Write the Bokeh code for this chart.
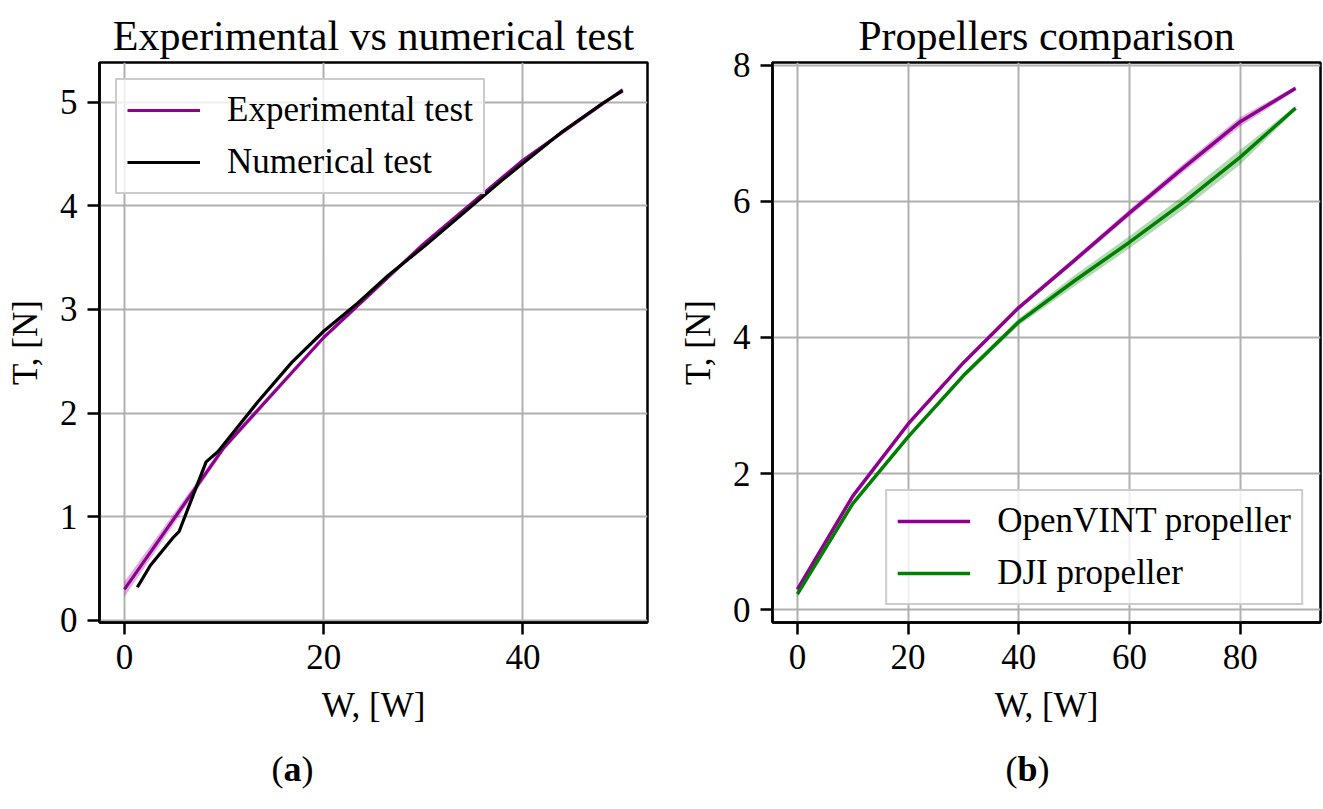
from bokeh.plotting import figure
from bokeh.models import Range1d, FixedTicker, ColumnDataSource
from bokeh.layouts import column, row
from bokeh.core.properties import value
from bokeh.embed import file_html
from bokeh.resources import INLINE

# ---------------- data ----------------
# (a) Experimental vs numerical test
exp_W = [0, 10, 20, 30, 40, 50]
exp_T = [0.30, 1.67, 2.73, 3.63, 4.44, 5.12]
exp_std = [0.075, 0.03, 0.02, 0.02, 0.02, 0.015]

num_W = [1.3, 2.6, 4.9, 5.5, 8.2, 9.4, 13.4, 16.8, 20.0, 23.4, 26.5, 30.1, 34.5, 37.8, 40.0, 44.0, 48.0, 50.0]
num_T = [0.32, 0.53, 0.80, 0.86, 1.53, 1.63, 2.11, 2.49, 2.79, 3.06, 3.33, 3.61, 3.97, 4.24, 4.41, 4.72, 4.99, 5.11]

# (b) Propellers comparison
prop_W = [0, 10, 20, 30, 40, 50, 60, 70, 80, 90]
openvint_T = [0.30, 1.67, 2.73, 3.63, 4.44, 5.13, 5.83, 6.51, 7.17, 7.66]
openvint_std = [0.04, 0.03, 0.03, 0.03, 0.03, 0.04, 0.05, 0.06, 0.07, 0.03]
dji_T = [0.23, 1.56, 2.54, 3.44, 4.23, 4.83, 5.40, 6.00, 6.65, 7.37]
dji_std = [0.04, 0.03, 0.03, 0.04, 0.05, 0.08, 0.09, 0.10, 0.11, 0.03]

a_xticks = [0, 20, 40]
a_yticks = [0, 1, 2, 3, 4, 5]
b_xticks = [0, 20, 40, 60, 80]
b_yticks = [0, 2, 4, 6, 8]

titles = ["Experimental vs numerical test", "Propellers comparison"]
x_label = "W, [W]"
y_label = "T, [N]"
captions = ["a", "b"]

PURPLE = "#8e008e"
GREEN = "#008000"
FONT = "Liberation Serif"


def style(p, xticks, yticks):
    p.title.text_font = FONT
    p.title.text_font_size = "42px"
    p.title.text_font_style = "normal"
    p.title.text_color = "black"
    p.title.align = "center"
    p.title.standoff = 8
    p.outline_line_color = "black"
    p.outline_line_width = 2.5
    p.outline_line_alpha = 1
    p.background_fill_color = "white"
    p.border_fill_color = "white"
    p.xaxis.ticker = FixedTicker(ticks=xticks)
    p.yaxis.ticker = FixedTicker(ticks=yticks)
    for ax in [p.xaxis[0], p.yaxis[0]]:
        ax.axis_line_color = "black"
        ax.axis_line_width = 2.5
        ax.major_tick_line_color = "black"
        ax.major_tick_line_width = 2.5
        ax.major_tick_out = 12
        ax.major_tick_in = 0
        ax.minor_tick_line_color = None
        ax.major_label_text_font = FONT
        ax.major_label_text_font_size = "35px"
        ax.major_label_text_color = "black"
        ax.major_label_standoff = 10
        ax.axis_label_text_font = FONT
        ax.axis_label_text_font_size = "35px"
        ax.axis_label_text_font_style = "normal"
        ax.axis_label_text_color = "black"
    p.xaxis.axis_label = x_label
    p.yaxis.axis_label = y_label
    p.xaxis.axis_label_standoff = 14
    p.yaxis.axis_label_standoff = 12
    p.grid.grid_line_color = "#b0b0b0"
    p.grid.grid_line_width = 2


def style_legend(p, loc, margin):
    lg = p.legend[0]
    lg.location = loc
    lg.margin = margin
    lg.label_text_font = FONT
    lg.label_text_font_size = "35px"
    lg.label_text_color = "black"
    lg.glyph_width = 73
    lg.glyph_height = 30
    lg.label_height = 30
    lg.label_standoff = 27
    lg.padding = 10
    lg.spacing = 12
    lg.border_line_color = "#cccccc"
    lg.border_line_width = 2
    lg.border_line_alpha = 1
    lg.background_fill_color = "white"
    lg.background_fill_alpha = 0.8


# ---------------- (a) ----------------
p1 = figure(width=661, height=730, output_backend="svg", toolbar_location=None,
            x_range=Range1d(-2.5, 52.5), y_range=Range1d(-0.02, 5.383),
            title=titles[0], min_border_left=99, min_border_right=14,
            min_border_top=62, min_border_bottom=108)
style(p1, a_xticks, a_yticks)
src_a = ColumnDataSource(dict(
    x=exp_W, y=exp_T,
    lo=[t - s for t, s in zip(exp_T, exp_std)],
    hi=[t + s for t, s in zip(exp_T, exp_std)]))
p1.varea(x="x", y1="lo", y2="hi", source=src_a, fill_color=PURPLE, fill_alpha=0.3)
p1.line(x="x", y="y", source=src_a, line_color=PURPLE, line_width=3.2,
        legend_label="Experimental test")
p1.line(x=num_W, y=num_T, line_color="black", line_width=3.2, legend_label="Numerical test")
style_legend(p1, "top_left", 16)

# ---------------- (b) ----------------
p2 = figure(width=662, height=730, output_backend="svg", toolbar_location=None,
            x_range=Range1d(-4.5, 94.5), y_range=Range1d(-0.187, 8.04),
            title=titles[1], min_border_left=111, min_border_right=3,
            min_border_top=62, min_border_bottom=108)
style(p2, b_xticks, b_yticks)
src_o = ColumnDataSource(dict(
    x=prop_W, y=openvint_T,
    lo=[t - s for t, s in zip(openvint_T, openvint_std)],
    hi=[t + s for t, s in zip(openvint_T, openvint_std)]))
src_d = ColumnDataSource(dict(
    x=prop_W, y=dji_T,
    lo=[t - s for t, s in zip(dji_T, dji_std)],
    hi=[t + s for t, s in zip(dji_T, dji_std)]))
p2.varea(x="x", y1="lo", y2="hi", source=src_o, fill_color=PURPLE, fill_alpha=0.3)
p2.varea(x="x", y1="lo", y2="hi", source=src_d, fill_color=GREEN, fill_alpha=0.3)
p2.line(x="x", y="y", source=src_o, line_color=PURPLE, line_width=3.5,
        legend_label="OpenVINT propeller")
p2.line(x="x", y="y", source=src_d, line_color=GREEN, line_width=3.5,
        legend_label="DJI propeller")
style_legend(p2, "bottom_right", 17)

# ---------------- captions ----------------
p3 = figure(width=1323, height=79, output_backend="svg", toolbar_location=None,
            x_range=Range1d(0, 1323), y_range=Range1d(0, 79),
            x_axis_type=None, y_axis_type=None, min_border=0)
p3.grid.visible = False
p3.outline_line_color = None
p3.border_fill_color = "white"
cap_x = [292, 1027]
cap_half = [9, 10]
cap_y = [41, 41]
p3.text(x=cap_x, y=cap_y, text=captions, text_font=value(FONT), text_font_size="36px",
        text_font_style="bold", text_align="center", text_baseline="middle", text_color="black")
p3.text(x=[c - h for c, h in zip(cap_x, cap_half)], y=cap_y, text=["(", "("],
        text_font=value(FONT), text_font_size="36px", text_align="right",
        text_baseline="middle", text_color="black")
p3.text(x=[c + h for c, h in zip(cap_x, cap_half)], y=cap_y, text=[")", ")"],
        text_font=value(FONT), text_font_size="36px", text_align="left",
        text_baseline="middle", text_color="black")

layout = column(row(p1, p2), p3)
open("out.html", "w").write(file_html(layout, INLINE))
